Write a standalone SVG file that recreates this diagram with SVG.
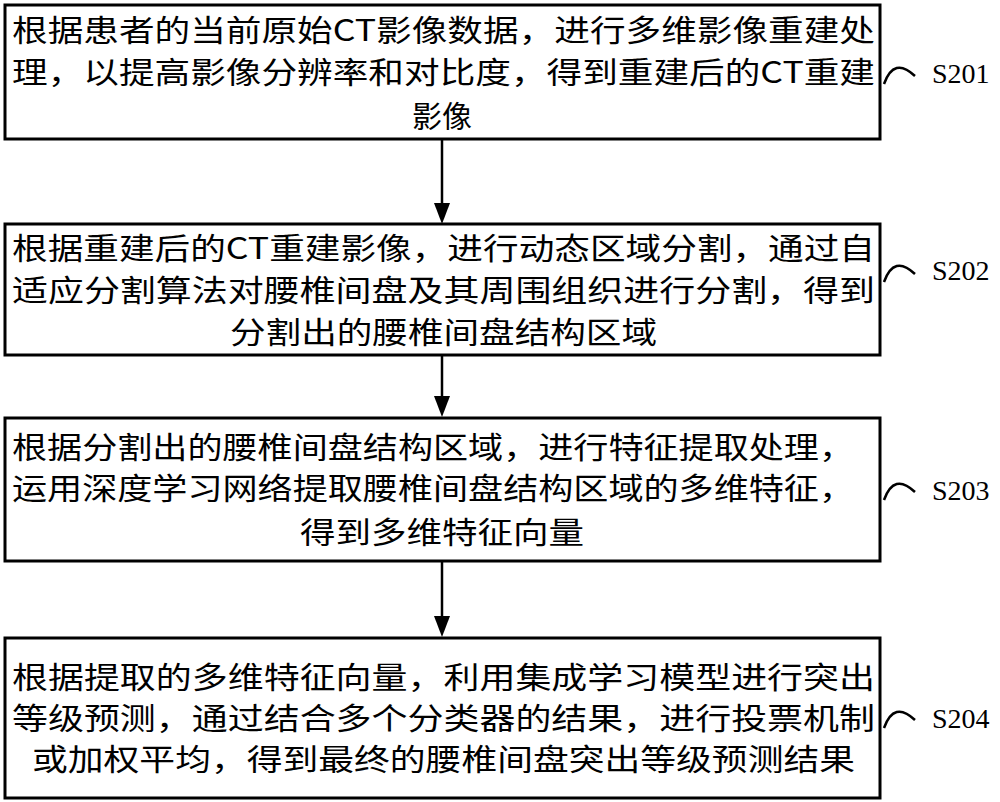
<svg xmlns="http://www.w3.org/2000/svg" width="1000" height="802" viewBox="0 0 1000 802">
<defs>
<style>
.box{fill:#fff;stroke:#000;stroke-width:3}
.t{font-family:"Noto Sans CJK SC","Liberation Serif",serif;font-size:30px;fill:#000}
.c{text-anchor:middle}
.lb{font-family:"Liberation Serif",serif;font-size:28px;fill:#000}
.cv{fill:none;stroke:#000;stroke-width:2.5}
.ln{stroke:#000;stroke-width:2.5;fill:none}
</style>
</defs>
<g id="connectors">
<line class="ln" x1="442" y1="140" x2="442" y2="205"/><path d="M434,203 L450,203 L442,224 Z"/>
<line class="ln" x1="442" y1="355" x2="442" y2="398"/><path d="M434,396 L450,396 L442,417 Z"/>
<line class="ln" x1="442" y1="561" x2="442" y2="618"/><path d="M434,616 L450,616 L442,637 Z"/>
</g>
<g id="s201">
<rect class="box" x="5" y="5" width="875" height="134"/>
<text class="t" x="12" y="41" textLength="863" lengthAdjust="spacingAndGlyphs">根据患者的当前原始CT影像数据，进行多维影像重建处</text>
<text class="t" x="12" y="83" textLength="863" lengthAdjust="spacingAndGlyphs">理，以提高影像分辨率和对比度，得到重建后的CT重建</text>
<text class="t c" x="442" y="127">影像</text>
<path class="cv" d="M884,84 Q894,56 915,76"/>
<text class="lb" x="932" y="83">S201</text>
</g>
<g id="s202">
<rect class="box" x="5" y="224" width="875" height="131"/>
<text class="t" x="12" y="259" textLength="863" lengthAdjust="spacingAndGlyphs">根据重建后的CT重建影像，进行动态区域分割，通过自</text>
<text class="t" x="12" y="301" textLength="863" lengthAdjust="spacingAndGlyphs">适应分割算法对腰椎间盘及其周围组织进行分割，得到</text>
<text class="t" x="230" y="343" textLength="427" lengthAdjust="spacingAndGlyphs">分割出的腰椎间盘结构区域</text>
<path class="cv" d="M884,282 Q894,254 915,274"/>
<text class="lb" x="932" y="280">S202</text>
</g>
<g id="s203">
<rect class="box" x="5" y="418" width="875" height="143"/>
<text class="t" x="12" y="458" textLength="842" lengthAdjust="spacingAndGlyphs">根据分割出的腰椎间盘结构区域，进行特征提取处理，</text>
<text class="t" x="12" y="499" textLength="842" lengthAdjust="spacingAndGlyphs">运用深度学习网络提取腰椎间盘结构区域的多维特征，</text>
<text class="t" x="300" y="543" textLength="284" lengthAdjust="spacingAndGlyphs">得到多维特征向量</text>
<path class="cv" d="M884,500 Q894,472 915,492"/>
<text class="lb" x="932" y="500">S203</text>
</g>
<g id="s204">
<rect class="box" x="5" y="638" width="875" height="160"/>
<text class="t" x="12" y="688" textLength="863" lengthAdjust="spacingAndGlyphs">根据提取的多维特征向量，利用集成学习模型进行突出</text>
<text class="t" x="12" y="729" textLength="863" lengthAdjust="spacingAndGlyphs">等级预测，通过结合多个分类器的结果，进行投票机制</text>
<text class="t" x="32" y="770" textLength="823" lengthAdjust="spacingAndGlyphs">或加权平均，得到最终的腰椎间盘突出等级预测结果</text>
<path class="cv" d="M884,728 Q894,700 915,720"/>
<text class="lb" x="932" y="728">S204</text>
</g>
</svg>
